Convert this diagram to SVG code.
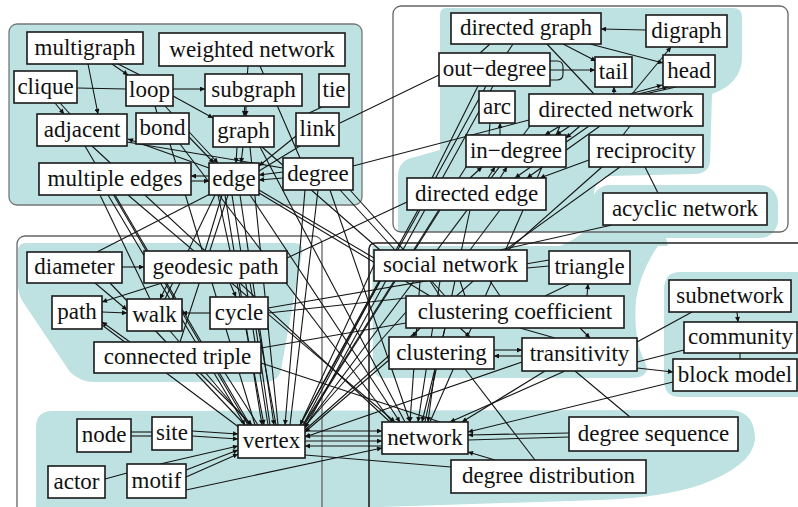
<svg xmlns="http://www.w3.org/2000/svg" width="798" height="507" viewBox="0 0 798 507">
<style>
.teal{fill:#bde2e1;stroke:none}
.panel{fill:none;stroke:#666;stroke-width:1.3}
.panel2{fill:none;stroke:#222;stroke-width:1.6}
#connectors line,#connectors path{stroke:#151515;stroke-width:1.1;fill:none}
#connectors .a{marker-end:url(#ah)}
.n rect{fill:#fff;stroke:#1a1a1a;stroke-width:1.6}
.n text{font-size:23px;text-anchor:middle;fill:#111}
</style>
<defs>
<marker id="ah" viewBox="0 0 10 10" refX="10" refY="5" markerWidth="6" markerHeight="5" orient="auto" markerUnits="userSpaceOnUse"><path d="M0,0 L10,5 L0,10 z" fill="#111"/></marker>
</defs>
<rect width="798" height="507" fill="#fff"/>
<rect x="9" y="24" width="353" height="181" rx="8" fill="#bde2e1" stroke="#777" stroke-width="1.3"/>
<path class="teal" d="M446,8 L734,8 Q742,8 742,18 L742,60 Q740,84 712,94 L710,162 Q708,174 694,174 L610,176 Q596,178 594,192 L594,232 L398,232 L398,176 Q398,160 415,157 L440,150 L440,15 Q440,8 446,8 Z"/>
<rect class="teal" x="592" y="185" width="186" height="53" rx="18"/>
<path class="teal" d="M560,246 Q585,236 598,215 L662,215 Q665,235 668,246 Z"/>
<path class="teal" d="M372,246 L658,246 Q640,272 636,300 Q633,340 645,362 Q652,378 630,378 L386,378 Q373,378 373,365 Z"/>
<path class="teal" d="M680,272 L798,272 L798,397 L680,397 Q664,397 664,380 L664,290 Q664,272 680,272 Z"/>
<path class="teal" d="M26,243 L294,243 Q304,243 302,253 L281,370 Q278,382 265,382 L95,382 Q80,382 70,372 L23,302 Q18,294 18,285 L18,251 Q18,243 26,243 Z"/>
<path class="teal" d="M52,411 L732,410 Q755,412 755,440 Q752,466 700,485 Q660,498 600,500 L380,507 L36,507 L36,428 Q36,411 52,411 Z"/>
<rect class="panel" x="393" y="6" width="395" height="226" rx="8"/>
<rect class="panel" x="17" y="236" width="305" height="280" rx="8"/>
<rect class="panel2" x="369" y="243" width="440" height="275" rx="6"/>

<g id="connectors">
<line x1="77" y1="88" x2="126" y2="89"/>
<line class="a" x1="173" y1="89" x2="205" y2="89"/>
<line class="a" x1="112" y1="64" x2="128" y2="75"/>
<line x1="118" y1="64" x2="140" y2="75"/>
<line class="a" x1="88" y1="64" x2="98" y2="114"/>
<line class="a" x1="55" y1="103" x2="64" y2="114"/>
<line x1="60" y1="103" x2="70" y2="114"/>
<line class="a" x1="173" y1="96" x2="213" y2="118"/>
<line x1="155" y1="106" x2="157" y2="113"/>
<line class="a" x1="165" y1="106" x2="218" y2="163"/>
<line class="a" x1="248" y1="66" x2="244" y2="116"/>
<line x1="260" y1="66" x2="300" y2="158"/>
<line class="a" x1="246" y1="106" x2="246" y2="116"/>
<line x1="322" y1="107" x2="309" y2="113"/>
<line class="a" x1="209" y1="168" x2="128" y2="139"/>
<line class="a" x1="189" y1="137" x2="214" y2="163"/>
<line class="a" x1="237" y1="147" x2="236" y2="163"/>
<line class="a" x1="243" y1="147" x2="241" y2="163"/>
<line class="a" x1="296" y1="136" x2="259" y2="166"/>
<line x1="300" y1="146" x2="259" y2="171"/>
<line class="a" x1="283" y1="172" x2="259" y2="175"/>
<line class="a" x1="283" y1="178" x2="259" y2="180"/>
<line class="a" x1="209" y1="176" x2="191" y2="176"/>
<line class="a" x1="191" y1="181" x2="209" y2="181"/>
<line x1="127" y1="142" x2="283" y2="168"/>
<line x1="340" y1="123" x2="439" y2="75"/>
<line x1="353" y1="166" x2="529" y2="120"/>
<line class="a" x1="225" y1="195" x2="262" y2="425"/>
<line x1="232" y1="195" x2="268" y2="425"/>
<line class="a" x1="240" y1="195" x2="274" y2="425"/>
<line class="a" x1="250" y1="195" x2="400" y2="422"/>
<line x1="222" y1="195" x2="205" y2="251"/>
<line x1="212" y1="193" x2="97" y2="252"/>
<line x1="215" y1="195" x2="165" y2="299"/>
<line x1="259" y1="190" x2="374" y2="258"/>
<line x1="259" y1="193" x2="430" y2="296"/>
<line x1="218" y1="195" x2="240" y2="297"/>
<line x1="228" y1="195" x2="180" y2="342"/>
<line class="a" x1="305" y1="190" x2="285" y2="425"/>
<line x1="318" y1="190" x2="290" y2="425"/>
<line class="a" x1="330" y1="190" x2="410" y2="422"/>
<line x1="340" y1="190" x2="395" y2="250"/>
<line x1="350" y1="190" x2="445" y2="296"/>
<line class="a" x1="108" y1="195" x2="245" y2="425"/>
<line x1="115" y1="195" x2="250" y2="425"/>
<line class="a" x1="128" y1="195" x2="395" y2="422"/>
<line x1="100" y1="195" x2="150" y2="299"/>
<line x1="85" y1="146" x2="248" y2="425"/>
<line x1="92" y1="146" x2="390" y2="422"/>
<line x1="170" y1="144" x2="255" y2="425"/>
<line x1="180" y1="144" x2="392" y2="422"/>
<line x1="260" y1="147" x2="405" y2="422"/>
<line x1="250" y1="147" x2="278" y2="425"/>
<line x1="262" y1="147" x2="380" y2="250"/>
<line class="a" x1="646" y1="30" x2="601" y2="29"/>
<line class="a" x1="563" y1="44" x2="596" y2="61"/>
<line class="a" x1="590" y1="44" x2="663" y2="63"/>
<line x1="547" y1="44" x2="594" y2="94"/>
<line class="a" x1="550" y1="70" x2="595" y2="70"/>
<path d="M550,61 H557 Q563,61 563,67 V74 Q563,80 557,80 H550"/>
<line x1="490" y1="44" x2="480" y2="53"/>
<line x1="513" y1="44" x2="507" y2="53"/>
<line class="a" x1="614" y1="94" x2="614" y2="87"/>
<line class="a" x1="630" y1="94" x2="662" y2="85"/>
<line class="a" x1="638" y1="94" x2="668" y2="87"/>
<line class="a" x1="632" y1="94" x2="671" y2="47"/>
<line x1="645" y1="94" x2="676" y2="87"/>
<line x1="490" y1="123" x2="489" y2="135"/>
<line class="a" x1="500" y1="135" x2="500" y2="123"/>
<line class="a" x1="560" y1="126" x2="545" y2="135"/>
<line class="a" x1="570" y1="126" x2="556" y2="135"/>
<line class="a" x1="580" y1="126" x2="566" y2="138"/>
<line class="a" x1="589" y1="126" x2="515" y2="178"/>
<line class="a" x1="600" y1="126" x2="527" y2="178"/>
<line class="a" x1="589" y1="160" x2="540" y2="178"/>
<line x1="623" y1="135" x2="630" y2="126"/>
<line x1="645" y1="167" x2="658" y2="193"/>
<line class="a" x1="470" y1="178" x2="482" y2="167"/>
<line class="a" x1="488" y1="178" x2="495" y2="167"/>
<line class="a" x1="500" y1="178" x2="507" y2="167"/>
<line x1="486" y1="86" x2="300" y2="425"/>
<line class="a" x1="493" y1="86" x2="305" y2="428"/>
<line x1="478" y1="86" x2="432" y2="178"/>
<line x1="620" y1="167" x2="505" y2="250"/>
<line x1="602" y1="167" x2="305" y2="430"/>
<line x1="612" y1="225" x2="500" y2="250"/>
<line x1="407" y1="202" x2="287" y2="258"/>
<line class="a" x1="420" y1="210" x2="300" y2="425"/>
<line x1="440" y1="210" x2="303" y2="427"/>
<line x1="466" y1="167" x2="302" y2="427"/>
<line x1="530" y1="126" x2="304" y2="428"/>
<line x1="560" y1="126" x2="430" y2="422"/>
<line x1="470" y1="210" x2="425" y2="422"/>
<line x1="500" y1="210" x2="470" y2="250"/>
<line class="a" x1="122" y1="267" x2="144" y2="267"/>
<line class="a" x1="95" y1="283" x2="127" y2="310"/>
<line class="a" x1="162" y1="283" x2="102" y2="302"/>
<line class="a" x1="102" y1="312" x2="127" y2="313"/>
<line class="a" x1="210" y1="313" x2="182" y2="313"/>
<line class="a" x1="168" y1="283" x2="160" y2="299"/>
<line x1="180" y1="283" x2="172" y2="299"/>
<line class="a" x1="230" y1="283" x2="236" y2="297"/>
<line class="a" x1="130" y1="342" x2="102" y2="322"/>
<line x1="102" y1="325" x2="240" y2="428"/>
<line x1="170" y1="331" x2="250" y2="425"/>
<line class="a" x1="246" y1="329" x2="264" y2="425"/>
<line x1="256" y1="329" x2="270" y2="425"/>
<line class="a" x1="200" y1="373" x2="252" y2="425"/>
<line x1="225" y1="373" x2="258" y2="425"/>
<line x1="250" y1="283" x2="276" y2="425"/>
<line x1="110" y1="283" x2="245" y2="425"/>
<line x1="268" y1="308" x2="549" y2="260"/>
<line x1="268" y1="313" x2="406" y2="298"/>
<line x1="261" y1="348" x2="406" y2="323"/>
<line x1="261" y1="363" x2="440" y2="422"/>
<line x1="131" y1="432" x2="152" y2="432"/>
<line x1="131" y1="436" x2="152" y2="436"/>
<line class="a" x1="192" y1="431" x2="238" y2="434"/>
<line class="a" x1="192" y1="436" x2="238" y2="439"/>
<line x1="105" y1="479" x2="127" y2="473"/>
<line class="a" x1="160" y1="464" x2="238" y2="446"/>
<line class="a" x1="186" y1="470" x2="238" y2="450"/>
<line class="a" x1="186" y1="477" x2="238" y2="454"/>
<line class="a" x1="186" y1="490" x2="382" y2="448"/>
<line class="a" x1="305" y1="431" x2="382" y2="431"/>
<line class="a" x1="382" y1="436" x2="305" y2="436"/>
<line class="a" x1="305" y1="441" x2="382" y2="441"/>
<line class="a" x1="382" y1="446" x2="305" y2="446"/>
<line x1="527" y1="268" x2="549" y2="266"/>
<line x1="570" y1="284" x2="545" y2="296"/>
<line class="a" x1="587" y1="296" x2="588" y2="284"/>
<line x1="430" y1="281" x2="440" y2="296"/>
<line x1="460" y1="281" x2="465" y2="296"/>
<line x1="490" y1="281" x2="500" y2="296"/>
<line class="a" x1="420" y1="328" x2="412" y2="337"/>
<line class="a" x1="460" y1="328" x2="470" y2="337"/>
<line class="a" x1="494" y1="350" x2="522" y2="350"/>
<line class="a" x1="522" y1="356" x2="494" y2="356"/>
<line x1="520" y1="328" x2="555" y2="338"/>
<line class="a" x1="580" y1="328" x2="590" y2="338"/>
<line x1="637" y1="342" x2="692" y2="312"/>
<line x1="637" y1="362" x2="684" y2="350"/>
<line class="a" x1="637" y1="368" x2="673" y2="372"/>
<line class="a" x1="737" y1="312" x2="738" y2="322"/>
<line x1="740" y1="353" x2="740" y2="359"/>
<line class="a" x1="673" y1="382" x2="468" y2="432"/>
<line class="a" x1="545" y1="371" x2="462" y2="422"/>
<line class="a" x1="565" y1="371" x2="450" y2="422"/>
<line x1="575" y1="371" x2="630" y2="417"/>
<line x1="465" y1="369" x2="535" y2="460"/>
<line class="a" x1="435" y1="369" x2="428" y2="422"/>
<line class="a" x1="569" y1="433" x2="468" y2="435"/>
<line x1="569" y1="437" x2="468" y2="440"/>
<line class="a" x1="495" y1="460" x2="468" y2="452"/>
<line x1="451" y1="467" x2="305" y2="455"/>
<line class="a" x1="420" y1="281" x2="410" y2="422"/>
<line class="a" x1="440" y1="281" x2="418" y2="422"/>
<line class="a" x1="445" y1="328" x2="422" y2="422"/>
<line class="a" x1="522" y1="362" x2="305" y2="437"/>
<line class="a" x1="389" y1="360" x2="305" y2="432"/>
<line x1="406" y1="312" x2="303" y2="428"/>
<line x1="374" y1="265" x2="300" y2="425"/>
<line x1="380" y1="281" x2="302" y2="427"/>
</g>

<g id="nodes" font-family="Liberation Serif, Times New Roman, serif">
<g id="n-multigraph" class="n"><rect x="27" y="32" width="116" height="32"/><text x="85" y="55">multigraph</text></g>
<g id="n-weighted-network" class="n"><rect x="159" y="33" width="186" height="33"/><text x="252" y="57">weighted network</text></g>
<g id="n-clique" class="n"><rect x="14" y="71" width="63" height="32"/><text x="45.5" y="94">clique</text></g>
<g id="n-loop" class="n"><rect x="126" y="75" width="47" height="31"/><text x="149.5" y="97">loop</text></g>
<g id="n-subgraph" class="n"><rect x="205" y="74" width="97" height="32"/><text x="253.5" y="97">subgraph</text></g>
<g id="n-tie" class="n"><rect x="319" y="74" width="30" height="33"/><text x="334" y="97">tie</text></g>
<g id="n-adjacent" class="n"><rect x="37" y="114" width="90" height="32"/><text x="82" y="137">adjacent</text></g>
<g id="n-bond" class="n"><rect x="136" y="113" width="53" height="31"/><text x="162.5" y="135">bond</text></g>
<g id="n-graph" class="n"><rect x="213" y="116" width="61" height="31"/><text x="243.5" y="138">graph</text></g>
<g id="n-link" class="n"><rect x="296" y="113" width="43" height="33"/><text x="317.5" y="136">link</text></g>
<g id="n-multiple-edges" class="n"><rect x="39" y="163" width="152" height="32"/><text x="115" y="186">multiple edges</text></g>
<g id="n-edge" class="n"><rect x="209" y="163" width="50" height="32"/><text x="234" y="186">edge</text></g>
<g id="n-degree" class="n"><rect x="283" y="158" width="70" height="32"/><text x="318" y="181">degree</text></g>

<g id="n-directed-graph" class="n"><rect x="451" y="13" width="150" height="31"/><text x="526" y="35">directed graph</text></g>
<g id="n-digraph" class="n"><rect x="646" y="15" width="81" height="32"/><text x="686.5" y="38">digraph</text></g>
<g id="n-out-degree" class="n"><rect x="439" y="53" width="111" height="33"/><text x="494.5" y="76">out−degree</text></g>
<g id="n-tail" class="n"><rect x="595" y="57" width="37" height="30"/><text x="613.5" y="79">tail</text></g>
<g id="n-head" class="n"><rect x="663" y="55" width="52" height="32"/><text x="689" y="78">head</text></g>
<g id="n-arc" class="n"><rect x="479" y="91" width="36" height="32"/><text x="497" y="114">arc</text></g>
<g id="n-directed-network" class="n"><rect x="529" y="94" width="174" height="32"/><text x="616" y="117">directed network</text></g>
<g id="n-in-degree" class="n"><rect x="466" y="135" width="100" height="32"/><text x="516" y="158">in−degree</text></g>
<g id="n-reciprocity" class="n"><rect x="589" y="135" width="114" height="32"/><text x="646" y="158">reciprocity</text></g>
<g id="n-directed-edge" class="n"><rect x="407" y="178" width="139" height="32"/><text x="476.5" y="201">directed edge</text></g>
<g id="n-acyclic-network" class="n"><rect x="603" y="193" width="164" height="32"/><text x="685" y="216">acyclic network</text></g>

<g id="n-diameter" class="n"><rect x="27" y="252" width="95" height="31"/><text x="74.5" y="274">diameter</text></g>
<g id="n-geodesic-path" class="n"><rect x="144" y="251" width="143" height="32"/><text x="215.5" y="274">geodesic path</text></g>
<g id="n-path" class="n"><rect x="52" y="296" width="50" height="33"/><text x="77" y="319">path</text></g>
<g id="n-walk" class="n"><rect x="127" y="299" width="55" height="32"/><text x="154.5" y="322">walk</text></g>
<g id="n-cycle" class="n"><rect x="210" y="297" width="58" height="32"/><text x="239" y="320">cycle</text></g>
<g id="n-connected-triple" class="n"><rect x="94" y="342" width="167" height="31"/><text x="177.5" y="364">connected triple</text></g>
<g id="n-node" class="n"><rect x="77" y="419" width="54" height="33"/><text x="104" y="442">node</text></g>
<g id="n-site" class="n"><rect x="152" y="417" width="40" height="33"/><text x="172" y="440">site</text></g>
<g id="n-vertex" class="n"><rect x="238" y="425" width="67" height="33"/><text x="271.5" y="448">vertex</text></g>
<g id="n-actor" class="n"><rect x="48" y="466" width="57" height="32"/><text x="76.5" y="489">actor</text></g>
<g id="n-motif" class="n"><rect x="127" y="464" width="59" height="34"/><text x="156.5" y="488">motif</text></g>

<g id="n-social-network" class="n"><rect x="374" y="250" width="153" height="31"/><text x="450.5" y="272">social network</text></g>
<g id="n-triangle" class="n"><rect x="549" y="251" width="81" height="33"/><text x="589.5" y="274">triangle</text></g>
<g id="n-clustering-coefficient" class="n"><rect x="406" y="296" width="218" height="32"/><text x="515" y="319">clustering coefficient</text></g>
<g id="n-subnetwork" class="n"><rect x="669" y="280" width="122" height="32"/><text x="730" y="303">subnetwork</text></g>
<g id="n-clustering" class="n"><rect x="389" y="337" width="105" height="32"/><text x="441.5" y="360">clustering</text></g>
<g id="n-transitivity" class="n"><rect x="522" y="338" width="115" height="33"/><text x="579.5" y="361">transitivity</text></g>
<g id="n-community" class="n"><rect x="684" y="322" width="113" height="31"/><text x="740.5" y="344">community</text></g>
<g id="n-block-model" class="n"><rect x="673" y="359" width="124" height="32"/><text x="735" y="382">block model</text></g>
<g id="n-network" class="n"><rect x="382" y="422" width="86" height="32"/><text x="425" y="445">network</text></g>
<g id="n-degree-sequence" class="n"><rect x="569" y="417" width="169" height="34"/><text x="653.5" y="441">degree sequence</text></g>
<g id="n-degree-distribution" class="n"><rect x="451" y="460" width="195" height="33"/><text x="548.5" y="483">degree distribution</text></g>
</g>
</svg>
